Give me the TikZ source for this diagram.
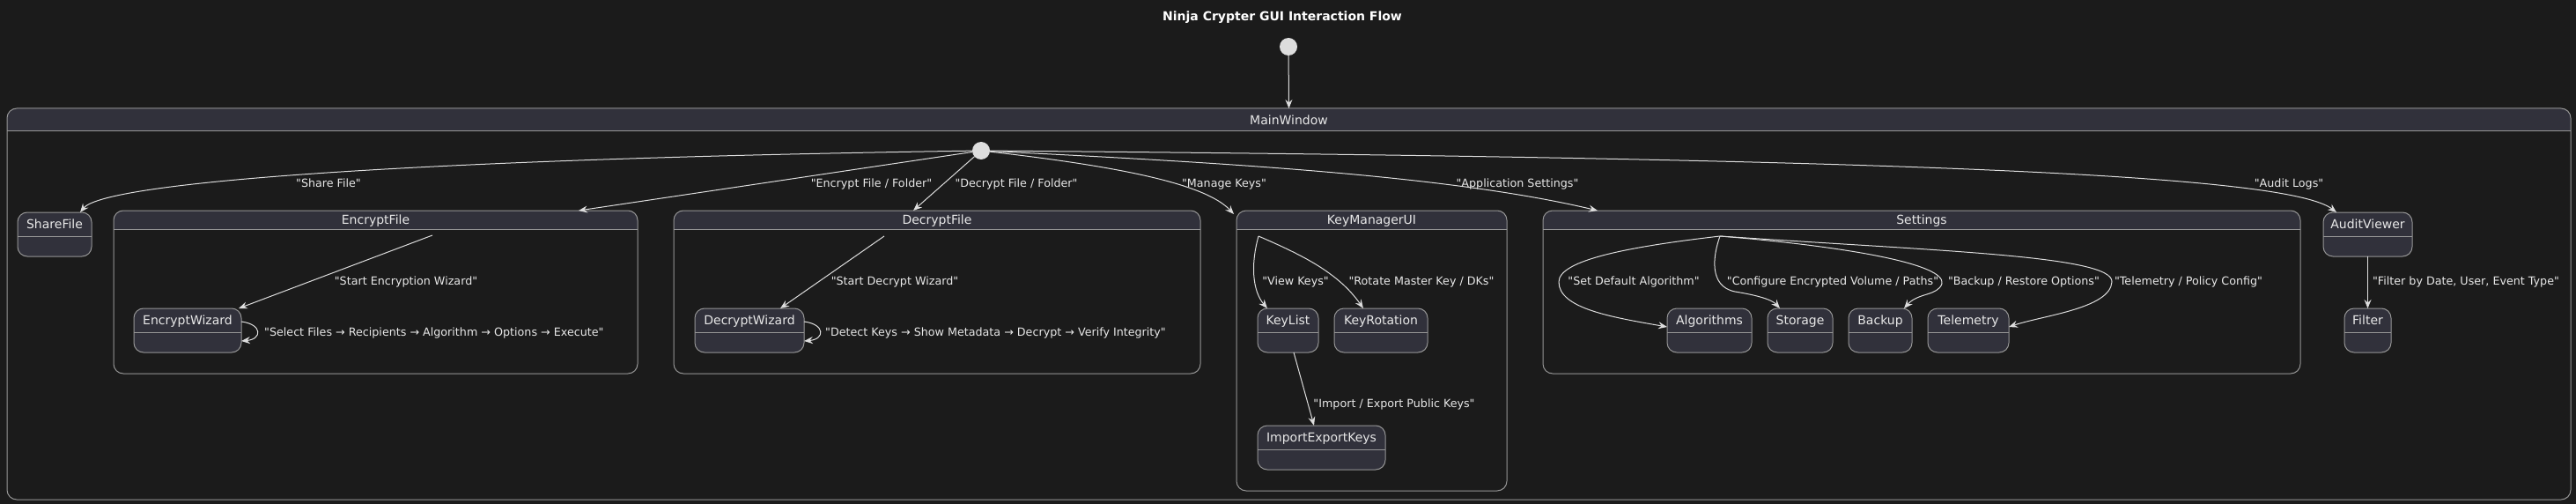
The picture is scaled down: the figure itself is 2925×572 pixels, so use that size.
\documentclass[tikz,border=0pt]{standalone}
\usepackage{fontspec}
\setmainfont{DejaVu Sans}[Ligatures=TeXOff]
\usetikzlibrary{arrows.meta,calc}
\definecolor{bgc}{HTML}{1B1B1B}
\definecolor{hdrc}{HTML}{31313B}
\definecolor{bdc}{HTML}{969696}
\definecolor{txc}{HTML}{E8E8E8}
\definecolor{lnc}{HTML}{DDDDDD}
\tikzset{
 bd/.style={draw=bdc, line width=1pt},
 cbox/.style={draw=bdc, line width=1pt, rounded corners=11pt, inner sep=0pt, outer sep=0pt},
 sbox/.style={draw=bdc, fill=hdrc, line width=1pt, rounded corners=11pt, inner sep=0pt, outer sep=0pt},
 stname/.style={text=txc, font=\fontsize{14}{16}\selectfont, inner sep=0pt, text height=10.2pt, text depth=0pt},
 lbl/.style={text=txc, font=\fontsize{12.7}{15}\selectfont, inner sep=0pt, text height=9.2pt, text depth=0pt},
 ttl/.style={text=white, font=\bfseries\fontsize{14}{16}\selectfont, inner sep=0pt, text height=10.2pt, text depth=0pt},
 arr/.style={draw=lnc, line width=1pt, -{Stealth[length=10pt,width=8pt,inset=3.5pt]}},
 dot/.style={circle, fill=lnc, minimum size=20pt, inner sep=0pt, outer sep=0pt},
}
\newcommand{\cstate}[7]{%
 \begin{scope}\clip (#2,#3) rectangle (#4,#6);
 \fill[hdrc, rounded corners=11pt] (#2,#3) rectangle (#4,#5);\end{scope}
 \node[cbox, minimum width={#4-#2}, minimum height={#5-#3}] (#1) at ({(#2+#4)/2},{(#3+#5)/2}) {};
 \draw[bd] (#2,#6) -- (#4,#6);
 \node[stname] (#1-t) at ({(#2+#4)/2},{(#3+#6)/2}) {#7};
}
\newcommand{\sstate}[6]{%
 \node[sbox, minimum width={#4-#2}, minimum height={#5-#3}] (#1) at ({(#2+#4)/2},{(#3+#5)/2}) {};
 \draw[bd] (#2,#3+27) -- (#4,#3+27);
 \node[stname] (#1-t) at ({(#2+#4)/2},{#3+13.5}) {#6};
}
\begin{document}
\begin{tikzpicture}[x=1pt,y=-1pt]
\fill[bgc] (0,0) rectangle (2925,572);
\useasboundingbox (0,0) rectangle (2925,572);

\node[ttl] (title) at (1456,18) {Ninja Crypter GUI Interaction Flow};

% states
\cstate{mw}{8}{123}{2919}{567}{149}{MainWindow}
\sstate{sf}{20}{241}{104}{291}{ShareFile}
\cstate{enc}{129}{239}{724}{424}{260}{EncryptFile}
\sstate{ew}{152}{350}{274}{400}{EncryptWizard}
\cstate{dec}{765}{239}{1363}{424}{260}{DecryptFile}
\sstate{dw}{789}{350}{913}{400}{DecryptWizard}
\cstate{km}{1404}{239}{1711}{557}{260}{KeyManagerUI}
\sstate{kl}{1428}{350}{1497}{400}{KeyList}
\sstate{kr}{1515}{350}{1621}{400}{KeyRotation}
\sstate{iek}{1428}{483}{1573}{533}{ImportExportKeys}
\cstate{set}{1752}{239}{2612}{424}{260}{Settings}
\sstate{alg}{1893}{350}{1989}{400}{Algorithms}
\sstate{st}{2007}{350}{2081}{400}{Storage}
\sstate{bk}{2099}{350}{2171}{400}{Backup}
\sstate{tel}{2189}{350}{2281}{400}{Telemetry}
\sstate{av}{2638}{241}{2739}{291}{AuditViewer}
\sstate{fl}{2662}{350}{2715}{400}{Filter}

% initial points
\node[dot] (top) at (1463,53) {};
\node[dot] (ini) at (1114,171) {};
\coordinate (enc-i) at (491,267);
\coordinate (dec-i) at (1004,268);
\coordinate (km-i) at (1429,268);
\coordinate (set-i) at (1953,268);

% connectors
\draw[arr] (top) -- (mw.north);
\draw[arr] (ini) .. controls (500,180) and (120,205) .. ([xshift=29pt]sf.north);
\draw[arr] (ini) -- ([xshift=230.5pt]enc.north);
\draw[arr] (ini) -- ([xshift=-27pt]dec.north);
\draw[arr] (ini) .. controls (1280,190) and (1370,210) .. ([xshift=-3pt,yshift=-4pt]km.north west);
\draw[arr] (ini) .. controls (1400,185) and (1650,200) .. ([xshift=-368pt]set.north);
\draw[arr] (ini) .. controls (2200,180) and (2600,200) .. ([xshift=-35.5pt]av.north);

\draw[arr] (enc-i) -- ([xshift=58pt]ew.north);
\draw[arr] ([yshift=10pt]ew.east) .. controls +(24,3) and +(24,-2) .. ([yshift=-12pt]ew.east);
\draw[arr] (dec-i) -- ([xshift=35pt]dw.north);
\draw[arr] ([yshift=10pt]dw.east) .. controls +(24,3) and +(24,-2) .. ([yshift=-12pt]dw.east);

\draw[arr] (km-i) .. controls (1420,300) and (1422,330) .. ([xshift=-23.5pt]kl.north);
\draw[arr] (km-i) .. controls (1480,290) and (1520,310) .. ([xshift=-20pt]kr.north);
\draw[arr] ([xshift=6.5pt]kl.south) -- ([xshift=-8.5pt]iek.north);

\draw[arr] (set-i) .. controls (1850,280) and (1770,295) .. (1770,320) .. controls (1770,350) and (1830,360) .. ([yshift=4pt]alg.west);
\draw[arr] (set-i) .. controls (1945,290) and (1940,325) .. (1970,331) .. controls (1995,335) and (2012,340) .. ([xshift=-23pt]st.north);
\draw[arr] (set-i) .. controls (2100,280) and (2210,300) .. (2205,322) .. controls (2200,336) and (2178,332) .. ([xshift=27pt]bk.north);
\draw[arr] (set-i) .. controls (2200,285) and (2400,290) .. (2398,320) .. controls (2396,350) and (2320,358) .. ([yshift=4pt]tel.east);

\draw[arr] (av.south) -- (fl.north);

% labels
\node[lbl] (l1) at (373,208) {"Share File"};
\node[lbl] (l2) at (989.5,208) {"Encrypt File / Folder"};
\node[lbl] (l3) at (1154,208) {"Decrypt File / Folder"};
\node[lbl] (l4) at (1390,208) {"Manage Keys"};
\node[lbl] (l5) at (1723,208) {"Application Settings"};
\node[lbl] (l6) at (2599,208) {"Audit Logs"};
\node[lbl] (l7) at (461,319) {"Start Encryption Wizard"};
\node[lbl,anchor=west] (l8) at (300,377) {"Select Files → Recipients → Algorithm → Options → Execute"};
\node[lbl] (l9) at (1016,319) {"Start Decrypt Wizard"};
\node[lbl,anchor=west] (l10) at (937,377) {"Detect Keys → Show Metadata → Decrypt → Verify Integrity"};
\node[lbl] (l11) at (1471,319) {"View Keys"};
\node[lbl] (l12) at (1614,319) {"Rotate Master Key / DKs"};
\node[lbl] (l13) at (1583,458) {"Import / Export Public Keys"};
\node[lbl] (l14) at (1855,319) {"Set Default Algorithm"};
\node[lbl] (l15) at (2081,319) {"Configure Encrypted Volume / Paths"};
\node[lbl] (l16) at (2298,319) {"Backup / Restore Options"};
\node[lbl] (l17) at (2485,319) {"Telemetry / Policy Config"};
\node[lbl] (l18) at (2800,319) {"Filter by Date, User, Event Type"};
\end{tikzpicture}
\end{document}
